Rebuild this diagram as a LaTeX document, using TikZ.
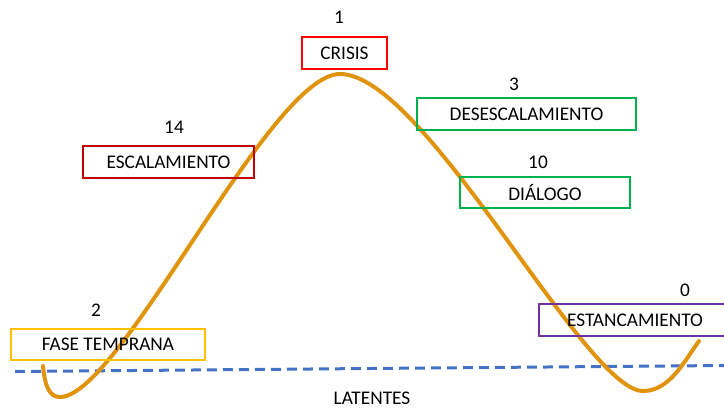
\documentclass[tikz,border=0pt]{standalone}
\usepackage{fontspec}
\setmainfont{Carlito}
\begin{document}
\begin{tikzpicture}[x=1pt,y=-1pt,
  lbl/.style={draw,line width=1.5pt,inner sep=0pt,font=\fontsize{19.3}{21}\selectfont},
  num/.style={inner sep=0pt,font=\fontsize{19.3}{21}\selectfont},
  txt/.style={inner sep=0pt,font=\fontsize{19.3}{21}\selectfont}]
\useasboundingbox (0,0) rectangle (724,410);
\definecolor{cred}{HTML}{FF0000}
\definecolor{dred}{HTML}{C00000}
\definecolor{cgreen}{HTML}{00B050}
\definecolor{cgold}{HTML}{FFC000}
\definecolor{cpurple}{HTML}{7030A0}
\definecolor{cblue}{HTML}{4472C4}
\definecolor{corange}{HTML}{E0940E}
% dashed line
\coordinate (dl) at (15,371.5);
\coordinate (dr) at (724,365.5);
\draw[cblue,line width=3pt,dash pattern=on 10pt off 6pt] (dl) -- (dr);
% curve
\coordinate (c0) at (43,366);
\coordinate (m1) at (60,397);
\coordinate (pk) at (340,74);
\coordinate (m2) at (643,391);
\coordinate (ce) at (699,341);
\draw[corange,line width=4pt,line cap=round,line join=round]
  (c0) .. controls (45,386) and (49,397) .. (m1)
  .. controls (120,397) and (270,74) .. (pk)
  .. controls (425,74) and (585,391) .. (m2)
  .. controls (670,391) and (685,360) .. (ce);
% boxes
\node[lbl,draw=cred,minimum width=85pt,minimum height=32pt] (crisis) at (344.5,53) {CRISIS};
\node[lbl,draw=cgreen,minimum width=219pt,minimum height=32pt] (desesc) at (526.5,114) {DESESCALAMIENTO};
\node[lbl,draw=cgreen,minimum width=170pt,minimum height=31pt] (dialogo) at (545,192.5) {DIÁLOGO};
\node[lbl,draw=dred,minimum width=171pt,minimum height=32pt] (escal) at (168.5,162) {ESCALAMIENTO};
\node[lbl,draw=cgold,minimum width=194pt,minimum height=31pt] (fase) at (108,344.5) {FASE TEMPRANA};
\node[lbl,draw=cpurple,minimum width=192pt,minimum height=32pt] (estanc) at (635,320) {ESTANCAMIENTO};
% numbers
\node[num] (n1) at (339,17) {1};
\node[num] (n3) at (514,84) {3};
\node[num] (n10) at (538,162) {10};
\node[num] (n14) at (174,127) {14};
\node[num] (n2) at (96,310) {2};
\node[num] (n0) at (685,290) {0};
\node[txt] (lat) at (372,398) {LATENTES};
\end{tikzpicture}
\end{document}
